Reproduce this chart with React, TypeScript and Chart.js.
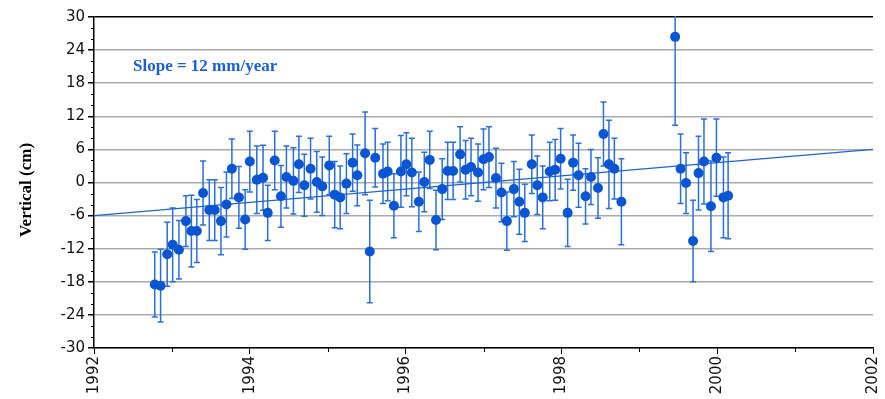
import React, { useEffect, useRef } from "react";
import { Chart, registerables } from "chart.js";

Chart.register(...registerables);

const years = [
  1992.78, 1992.855, 1992.94, 1993.01, 1993.09, 1993.18, 1993.25, 1993.32, 1993.40, 1993.48,
  1993.55, 1993.63, 1993.70, 1993.77, 1993.86, 1993.94, 1994.00, 1994.09, 1994.17, 1994.23,
  1994.32, 1994.40, 1994.47, 1994.56, 1994.63, 1994.70, 1994.78, 1994.86, 1994.93, 1995.02,
  1995.09, 1995.16, 1995.24, 1995.32, 1995.38, 1995.48, 1995.54, 1995.61, 1995.71, 1995.77, 1995.85,
  1995.94, 1996.01, 1996.08, 1996.17, 1996.24, 1996.31, 1996.39, 1996.47, 1996.54, 1996.61,
  1996.70, 1996.77, 1996.84, 1996.93, 1997.00, 1997.07, 1997.16, 1997.23, 1997.30, 1997.39,
  1997.46, 1997.53,
  1997.62, 1997.69, 1997.76, 1997.85, 1997.92, 1997.99, 1998.08, 1998.15, 1998.22, 1998.31,
  1998.38, 1998.47, 1998.54, 1998.61, 1998.68, 1998.77,
  1999.46, 1999.53, 1999.60, 1999.69, 1999.76, 1999.83, 1999.92, 1999.99, 2000.08, 2000.14,
];

const vertical = [
  -18.5, -18.7, -13.0, -11.3, -12.2, -7.0, -8.8, -8.8, -1.9, -5.0,
  -5.0, -7.0, -4.0, 2.5, -2.7, -6.7, 3.8, 0.5, 0.85, -5.5,
  4.0, -2.5, 1.0, 0.3, 3.3, -0.5, 2.5, 0.1, -0.7, 3.1,
  -2.2, -2.7, -0.2, 3.6, 1.3, 5.3, -12.5, 4.5, 1.6, 2.0, -4.2,
  2.0, 3.3, 1.8, -3.5, 0.1, 4.1, -6.8, -1.2, 2.1, 2.1,
  5.1, 2.3, 2.8, 1.8, 4.2, 4.6, 0.8, -1.8, -7.0, -1.2,
  -3.5, -5.5,
  3.3, -0.5, -2.7, 2.0, 2.3, 4.3, -5.5, 3.6, 1.3, -2.5,
  1.0, -1.0, 8.8, 3.3, 2.5, -3.5,
  26.4, 2.5, -0.1, -10.6, 1.7, 3.8, -4.3, 4.5, -2.7, -2.4,
];

const errors = [
  5.9, 6.6, 5.8, 6.7, 5.3, 4.6, 6.5, 5.7, 5.8, 5.5,
  5.5, 6.1, 5.9, 5.4, 5.6, 5.4, 5.5, 6.1, 5.9, 5.0,
  5.3, 5.6, 5.6, 6.0, 5.1, 5.6, 5.5, 5.5, 5.3, 5.3,
  6.0, 5.7, 5.4, 5.2, 5.5, 7.5, 9.3, 5.3, 5.4, 5.3, 5.8,
  6.5, 5.7, 6.2, 5.4, 5.4, 5.2, 5.4, 5.5, 5.2, 5.2,
  5.0, 5.3, 5.2, 5.2, 5.5, 5.5, 5.4, 5.3, 5.3, 5.0,
  5.9, 5.2,
  5.3, 5.3, 5.7, 5.3, 5.5, 5.5, 6.1, 5.0, 5.8, 5.0,
  5.0, 5.5, 5.8, 8.0, 5.5, 7.8,
  16.0, 6.3, 5.5, 7.4, 6.7, 7.7, 8.2, 7.0, 7.3, 7.8,
];

const trendYears = [1992, 2002];
const trendValues = [-6, 6];

const slopeLabel = "Slope = 12 mm/year";
const yTitle = "Vertical (cm)";

const POINT_COLOR = "#0a55d2";
const ERR_COLOR = "#2a6fdc";

const overlayPlugin = {
  id: "overlay",
  beforeDatasetsDraw(chart: any) {
    const { ctx, chartArea, scales } = chart;
    const xs = scales.x;
    const ys = scales.y;
    ctx.save();
    ctx.beginPath();
    ctx.rect(chartArea.left, chartArea.top - 1, chartArea.right - chartArea.left, chartArea.bottom - chartArea.top + 2);
    ctx.clip();
    ctx.strokeStyle = ERR_COLOR;
    ctx.lineWidth = 1.5;
    for (let i = 0; i < years.length; i++) {
      const px = xs.getPixelForValue(years[i]);
      const top = ys.getPixelForValue(vertical[i] + errors[i]);
      const bot = ys.getPixelForValue(vertical[i] - errors[i]);
      ctx.beginPath();
      ctx.moveTo(px, top);
      ctx.lineTo(px, bot);
      ctx.moveTo(px - 3, top);
      ctx.lineTo(px + 3, top);
      ctx.moveTo(px - 3, bot);
      ctx.lineTo(px + 3, bot);
      ctx.stroke();
    }
    ctx.restore();
  },
  afterDraw(chart: any) {
    const { ctx, chartArea, scales } = chart;
    const xs = scales.x;
    const ys = scales.y;
    ctx.save();
    ctx.strokeStyle = "#000";
    ctx.lineWidth = 1;
    for (let v = -30; v <= 30; v += 2) {
      if (v % 6 === 0) continue;
      const py = Math.round(ys.getPixelForValue(v)) + 0.5;
      ctx.beginPath();
      ctx.moveTo(chartArea.left - 3, py);
      ctx.lineTo(chartArea.left, py);
      ctx.stroke();
    }
    for (let yr = 1993; yr < 2002; yr += 2) {
      const px = Math.round(xs.getPixelForValue(yr)) + 0.5;
      ctx.beginPath();
      ctx.moveTo(px, chartArea.bottom);
      ctx.lineTo(px, chartArea.bottom + 4);
      ctx.stroke();
    }
    ctx.fillStyle = "#1a5fd6";
    ctx.font = "bold 17px 'Liberation Serif'";
    ctx.textBaseline = "middle";
    ctx.textAlign = "left";
    ctx.fillText(slopeLabel, 133, 67);
    ctx.fillStyle = "#000";
    ctx.font = "bold 17px 'Liberation Serif'";
    ctx.translate(27, 190);
    ctx.rotate(-Math.PI / 2);
    ctx.textAlign = "center";
    ctx.fillText(yTitle, 0, 0);
    ctx.restore();
  },
};

export default function App() {
  const canvasRef = useRef<HTMLCanvasElement | null>(null);

  useEffect(() => {
    document.body.style.margin = "0";
    const canvas = canvasRef.current;
    if (!canvas) return;
    const tickFont = { family: "'DejaVu Sans'", size: 15 };
    const chart = new Chart(canvas, {
      type: "scatter",
      data: {
        datasets: [
          {
            label: "points",
            data: years.map((x, i) => ({ x, y: vertical[i] })),
            backgroundColor: POINT_COLOR,
            borderColor: POINT_COLOR,
            pointRadius: 5,
            borderWidth: 0,
            order: 0,
          },
          {
            type: "line",
            label: "trend",
            data: trendYears.map((x, i) => ({ x, y: trendValues[i] })),
            borderColor: "#1f62d6",
            borderWidth: 1.2,
            pointRadius: 0,
            showLine: true,
            fill: false,
            order: 1,
          } as any,
        ],
      },
      options: {
        responsive: false,
        animation: false,
        events: [],
        layout: { padding: { top: 17, right: 12, left: 0, bottom: 0 } },
        plugins: {
          legend: { display: false },
          tooltip: { enabled: false },
          title: { display: false },
        },
        scales: {
          x: {
            type: "linear",
            min: 1992,
            max: 2002,
            ticks: {
              stepSize: 2,
              minRotation: 90,
              maxRotation: 90,
              font: tickFont,
              color: "#111",
              padding: 2,
              callback: (v: any) => String(v),
            },
            grid: {
              drawOnChartArea: false,
              drawTicks: true,
              tickLength: 6,
              color: "#000",
              tickColor: "#000",
            },
            border: { color: "#000", width: 1.5 },
            afterFit: (s: any) => {
              s.height = 51;
              s.paddingLeft = 0;
              s.paddingRight = 0;
            },
          },
          y: {
            min: -30,
            max: 30,
            ticks: {
              stepSize: 6,
              font: tickFont,
              color: "#111",
              padding: 3,
            },
            grid: {
              color: (c: any) => (c.tick && c.tick.value === 30 ? "#000" : "#aaaaaa"),
              lineWidth: 1.5,
              tickColor: "#000",
              tickLength: 6,
            },
            border: { color: "#000", width: 1.5 },
            afterFit: (s: any) => {
              s.width = 94;
            },
          },
        },
      },
      plugins: [overlayPlugin],
    });
    return () => chart.destroy();
  }, []);

  return (
    <div style={{ width: 885, height: 399, background: "#fff" }}>
      <canvas ref={canvasRef} width={885} height={399} style={{ display: "block" }} />
    </div>
  );
}
